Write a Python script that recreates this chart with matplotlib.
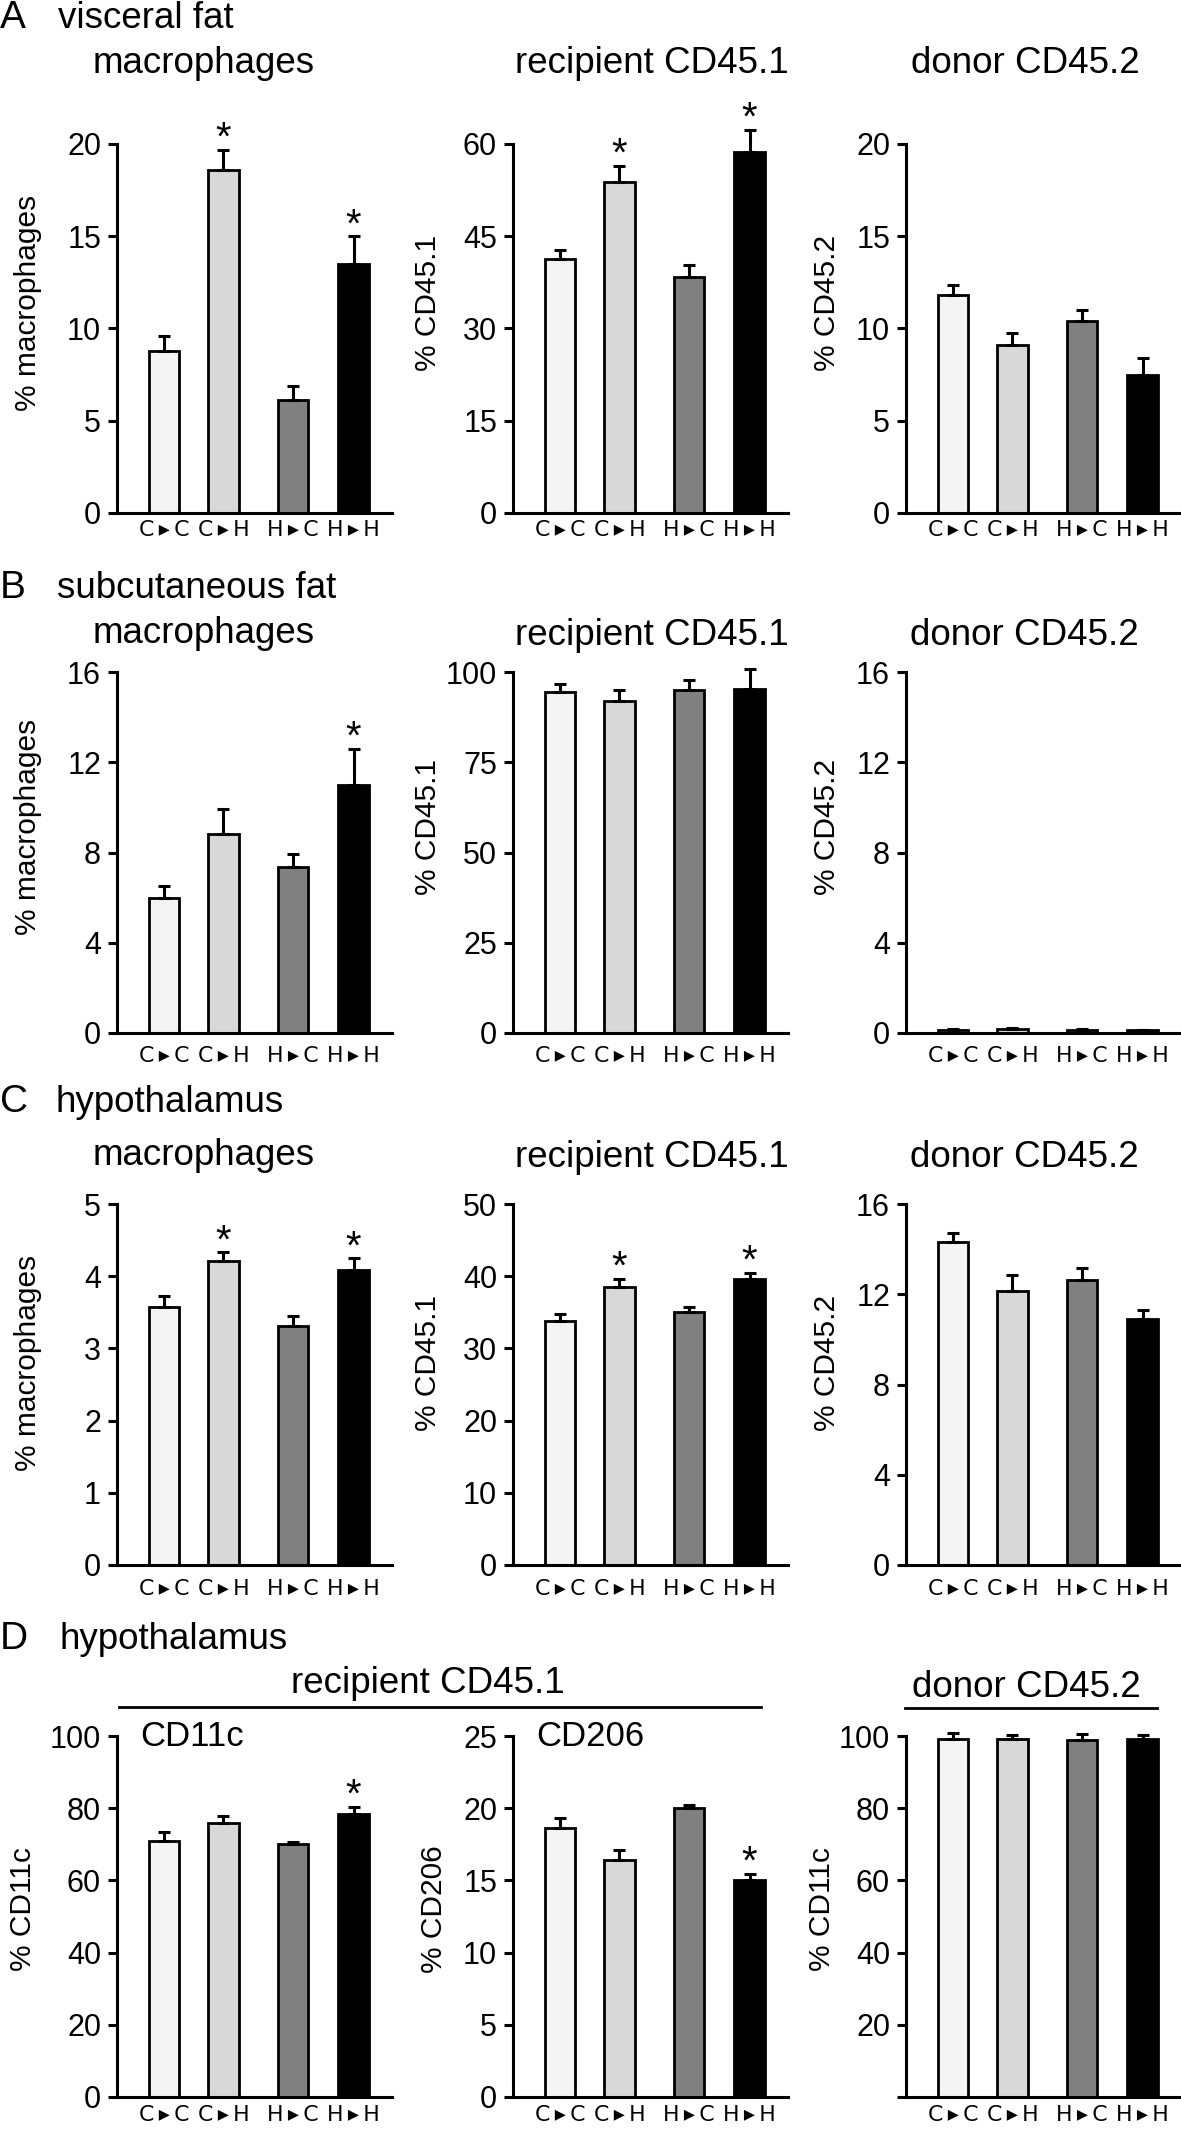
import numpy as np
import matplotlib.pyplot as plt

plt.rcParams['font.family'] = ['Liberation Sans', 'DejaVu Sans']

W, H = 1181, 2136

groups = ['C\u2009▸\u2009C', 'C\u2009▸\u2009H', 'H\u2009▸\u2009C', 'H\u2009▸\u2009H']
bar_colors = ['#f4f4f4', '#d8d8d8', '#808080', '#000000']

# A  visceral fat
vis_mac = [8.8, 18.6, 6.1, 13.5]
vis_mac_err = [0.8, 1.1, 0.8, 1.5]
vis_mac_sig = [False, True, False, True]
vis_rec = [41.3, 53.8, 38.3, 58.7]
vis_rec_err = [1.5, 2.6, 2.1, 3.6]
vis_rec_sig = [False, True, False, True]
vis_don = [11.8, 9.1, 10.4, 7.5]
vis_don_err = [0.55, 0.65, 0.6, 0.9]
vis_don_sig = [False, False, False, False]

# B  subcutaneous fat
sub_mac = [6.0, 8.8, 7.35, 11.0]
sub_mac_err = [0.5, 1.15, 0.6, 1.6]
sub_mac_sig = [False, False, False, True]
sub_rec = [94.5, 92.1, 95.0, 95.4]
sub_rec_err = [2.1, 2.8, 2.7, 5.3]
sub_rec_sig = [False, False, False, False]
sub_don = [0.15, 0.18, 0.14, 0.12]
sub_don_err = [0.02, 0.02, 0.02, 0.02]
sub_don_sig = [False, False, False, False]

# C  hypothalamus
hyp_mac = [3.58, 4.21, 3.31, 4.09]
hyp_mac_err = [0.15, 0.12, 0.14, 0.16]
hyp_mac_sig = [False, True, False, True]
hyp_rec = [33.8, 38.5, 35.0, 39.6]
hyp_rec_err = [0.9, 1.1, 0.7, 0.9]
hyp_rec_sig = [False, True, False, True]
hyp_don = [14.3, 12.15, 12.65, 10.9]
hyp_don_err = [0.42, 0.72, 0.5, 0.42]
hyp_don_sig = [False, False, False, False]

# D  hypothalamus subsets
rec_cd11c = [71.0, 76.0, 70.0, 78.3]
rec_cd11c_err = [2.3, 1.8, 0.6, 2.0]
rec_cd11c_sig = [False, False, False, True]
rec_cd206 = [18.6, 16.4, 20.0, 15.0]
rec_cd206_err = [0.75, 0.7, 0.25, 0.45]
rec_cd206_sig = [False, False, False, True]
don_cd11c = [99.2, 99.2, 99.0, 99.3]
don_cd11c_err = [1.5, 1.1, 1.5, 1.0]
don_cd11c_sig = [False, False, False, False]

BAR_X = [0, 1, 2.17, 3.2]
AX_W = 275
COLS = [117, 513, 906]

fig = plt.figure(figsize=(W / 100, H / 100), dpi=100)


def panel(left, top, bottom, vals, errs, sig, ticks, ylabel, labelx, labely,
          xpad, show_zero=True):
    ax = fig.add_axes([left / W, 1 - bottom / H, AX_W / W, (bottom - top) / H])
    ax.bar(BAR_X, vals, width=0.51, color=bar_colors, edgecolor='black',
           linewidth=2, zorder=2)
    eb = ax.errorbar(BAR_X, vals, yerr=[np.zeros(len(vals)), errs], fmt='none',
                     ecolor='black', elinewidth=2.2, capsize=4.5, capthick=2.2,
                     zorder=3)
    for art in eb.lines[1] + eb.lines[2]:
        art.set_clip_on(False)
    for x, v, e, s in zip(BAR_X, vals, errs, sig):
        if s:
            ax.annotate('*', xy=(x, v + e), xytext=(0, 0), textcoords='offset points',
                        ha='center', va='baseline', fontsize=29,
                        annotation_clip=False)
    ax.set_xlim(-0.8, 3.85)
    ax.set_ylim(0, ticks[-1])
    ax.set_yticks(ticks)
    if not show_zero:
        ax.set_yticklabels([''] + [str(t) for t in ticks[1:]])
    ax.set_xticks(BAR_X, groups, family='DejaVu Sans')
    for sp in ['top', 'right']:
        ax.spines[sp].set_visible(False)
    for sp in ['left', 'bottom']:
        ax.spines[sp].set_linewidth(2.2)
    ax.tick_params(axis='y', direction='out', length=6.5, width=2.2,
                   labelsize=22, pad=5)
    ax.tick_params(axis='x', length=0, labelsize=15.8, pad=xpad)
    ax.set_ylabel(ylabel, fontsize=21.5)
    ax.yaxis.set_label_coords((labelx - left) / AX_W, labely)
    ax.yaxis.label.set_verticalalignment('center')
    return ax


def ftext(x, y, s, size=26.5, ha='left'):
    fig.text(x / W, 1 - y / H, s, fontsize=size, ha=ha, va='baseline')


def fline(x0, x1, y):
    fig.add_artist(plt.Line2D([x0 / W, x1 / W], [1 - y / H] * 2,
                              transform=fig.transFigure, color='black', lw=2))


# row A
panel(COLS[0], 144, 513, vis_mac, vis_mac_err, vis_mac_sig, [0, 5, 10, 15, 20],
      '% macrophages', 28, 0.57, 5)
panel(COLS[1], 144, 513, vis_rec, vis_rec_err, vis_rec_sig, [0, 15, 30, 45, 60],
      '% CD45.1', 428, 0.57, 5)
panel(COLS[2], 144, 513, vis_don, vis_don_err, vis_don_sig, [0, 5, 10, 15, 20],
      '% CD45.2', 827, 0.57, 5)
ftext(0, 28, 'A', 28)
ftext(58, 28, 'visceral fat')
ftext(204, 73, 'macrophages', ha='center')
ftext(652, 73, 'recipient CD45.1', ha='center')
ftext(1025, 73, 'donor CD45.2', ha='center')

# row B
panel(COLS[0], 672, 1033, sub_mac, sub_mac_err, sub_mac_sig, [0, 4, 8, 12, 16],
      '% macrophages', 28, 0.57, 9)
panel(COLS[1], 672, 1033, sub_rec, sub_rec_err, sub_rec_sig, [0, 25, 50, 75, 100],
      '% CD45.1', 428, 0.57, 9)
panel(COLS[2], 672, 1033, sub_don, sub_don_err, sub_don_sig, [0, 4, 8, 12, 16],
      '% CD45.2', 827, 0.57, 9)
ftext(0, 598, 'B', 28)
ftext(57, 598, 'subcutaneous fat')
ftext(204, 643, 'macrophages', ha='center')
ftext(652, 645, 'recipient CD45.1', ha='center')
ftext(1024, 645, 'donor CD45.2', ha='center')

# row C
panel(COLS[0], 1204, 1565, hyp_mac, hyp_mac_err, hyp_mac_sig, [0, 1, 2, 3, 4, 5],
      '% macrophages', 28, 0.56, 10)
panel(COLS[1], 1204, 1565, hyp_rec, hyp_rec_err, hyp_rec_sig, [0, 10, 20, 30, 40, 50],
      '% CD45.1', 428, 0.56, 10)
panel(COLS[2], 1204, 1565, hyp_don, hyp_don_err, hyp_don_sig, [0, 4, 8, 12, 16],
      '% CD45.2', 827, 0.56, 10)
ftext(0, 1112, 'C', 28)
ftext(55, 1112, 'hypothalamus')
ftext(204, 1165, 'macrophages', ha='center')
ftext(652, 1167, 'recipient CD45.1', ha='center')
ftext(1024, 1167, 'donor CD45.2', ha='center')

# row D
panel(COLS[0], 1736, 2097, rec_cd11c, rec_cd11c_err, rec_cd11c_sig,
      [0, 20, 40, 60, 80, 100], '% CD11c', 23, 0.52, 6)
panel(COLS[1], 1736, 2097, rec_cd206, rec_cd206_err, rec_cd206_sig,
      [0, 5, 10, 15, 20, 25], '% CD206', 434, 0.52, 6)
panel(COLS[2], 1736, 2097, don_cd11c, don_cd11c_err, don_cd11c_sig,
      [0, 20, 40, 60, 80, 100], '% CD11c', 822, 0.52, 6, show_zero=False)
ftext(0, 1649, 'D', 28)
ftext(59, 1649, 'hypothalamus')
ftext(428, 1693, 'recipient CD45.1', ha='center')
fline(119, 761, 1707)
ftext(1026, 1697, 'donor CD45.2', ha='center')
fline(905, 1157, 1708)
ftext(140, 1746, 'CD11c', 25)
ftext(536, 1746, 'CD206', 25)

fig.savefig('out.png', dpi=100)
